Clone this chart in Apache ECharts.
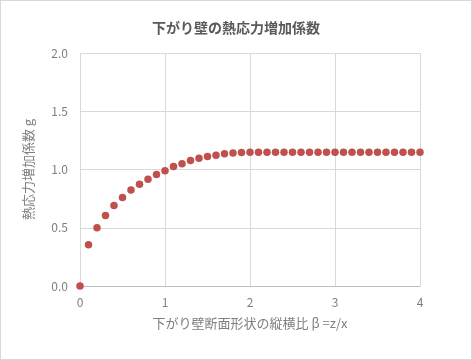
<!DOCTYPE html>
<html><head><meta charset="utf-8">
<script src="https://cdn.jsdelivr.net/npm/echarts@6/dist/echarts.min.js"></script>
<style>html,body{margin:0;padding:0;background:#fff}#c{width:472px;height:360px;box-sizing:border-box;border:1px solid #d9d9d9}</style>
</head><body><div id="c"></div>
<script>
const titleText = '下がり壁の熱応力増加係数';
const xName = '下がり壁断面形状の縦横比 β =z/x';
const yName = '熱応力増加係数 g';
const betaValues = [0,0.1,0.2,0.3,0.4,0.5,0.6,0.7,0.8,0.9,1.0,1.1,1.2,1.3,1.4,1.5,1.6,1.7,1.8,1.9,2.0,2.1,2.2,2.3,2.4,2.5,2.6,2.7,2.8,2.9,3.0,3.1,3.2,3.3,3.4,3.5,3.6,3.7,3.8,3.9,4.0];
const gValues = [0,0.354,0.50,0.606,0.69,0.76,0.823,0.874,0.917,0.957,0.99,1.025,1.05,1.078,1.097,1.112,1.122,1.135,1.141,1.145,1.148,1.148,1.148,1.148,1.148,1.148,1.148,1.148,1.148,1.148,1.148,1.148,1.148,1.148,1.148,1.148,1.148,1.148,1.148,1.148,1.148];
const font = '"Noto Sans CJK JP", "Noto Sans", sans-serif';
const chart = echarts.init(document.getElementById('c'));
chart.setOption({
  animation:false,
  textStyle:{fontFamily:font},
  title:{text:titleText,left:'center',top:15,textStyle:{fontSize:14,fontWeight:'bold',color:'#595959',fontFamily:font}},
  grid:{left:79,right:51,top:52,bottom:73,containLabel:false},
  xAxis:{type:'value',min:0,max:4,interval:1,name:xName,nameLocation:'middle',nameGap:31,
    nameTextStyle:{color:'#7f7f7f',fontSize:13,fontFamily:font},
    axisLine:{show:true,lineStyle:{color:'#bfbfbf'}},axisTick:{show:false},
    axisLabel:{color:'#7f7f7f',fontSize:12,margin:10,fontFamily:font},
    splitLine:{show:true,lineStyle:{color:'#d9d9d9'}}},
  yAxis:{type:'value',min:0,max:2,interval:0.5,name:yName,nameLocation:'middle',nameGap:45,nameRotate:90,
    nameTextStyle:{color:'#7f7f7f',fontSize:13,fontFamily:font},
    axisLine:{show:false},axisTick:{show:false},
    axisLabel:{color:'#7f7f7f',fontSize:12,margin:12,fontFamily:font,formatter:v=>v.toFixed(1)},
    splitLine:{show:true,lineStyle:{color:'#d9d9d9'}}},
  series:[{type:'scatter',data:betaValues.map((b,i)=>[b,gValues[i]]),symbolSize:7.5,itemStyle:{color:'#c0504d',opacity:1}}]
});
</script></body></html>
